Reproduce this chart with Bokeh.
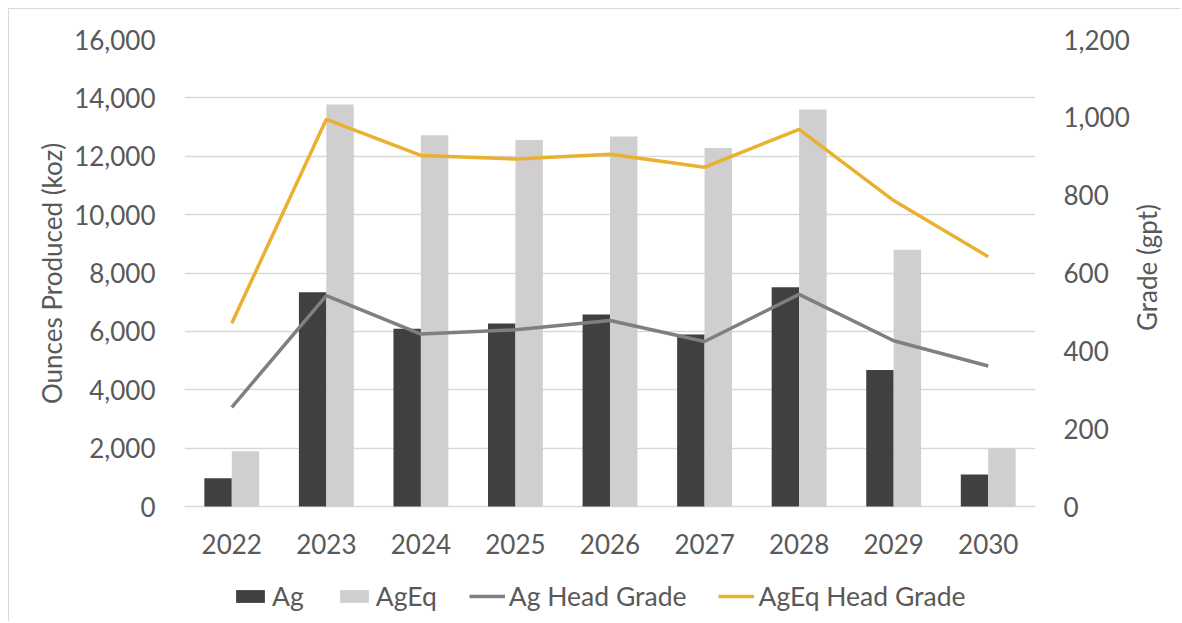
import math
from bokeh.plotting import figure
from bokeh.models import (ColumnDataSource, FactorRange, Range1d, LinearAxis, FixedTicker,
                          NumeralTickFormatter, Legend, LegendItem, Title)
from bokeh.transform import dodge
from bokeh.embed import file_html
from bokeh.resources import INLINE

years = ["2022", "2023", "2024", "2025", "2026", "2027", "2028", "2029", "2030"]
ag = [970, 7340, 6090, 6270, 6580, 5890, 7510, 4680, 1100]
ageq = [1890, 13770, 12720, 12560, 12680, 12280, 13600, 8800, 1990]
ag_grade = [255, 542, 443, 454, 478, 424, 545, 426, 361]
ageq_grade = [471, 995, 902, 893, 905, 872, 969, 786, 642]
oz_ticks = list(range(0, 16001, 2000))
grade_ticks = list(range(0, 1201, 200))

FONT = "Lato"
FS = "26px"
TXT = "#595959"

# layout geometry (screen px inside the figure)
W, H = 1172, 613
TOP = 30            # frame top (16,000 line)
PLOT_H = 467        # distance from 16,000 line down to the 0 line
BELOW = H - TOP - PLOT_H   # extra frame area below 0 (x labels + legend)
oz_max, gr_max = 16000, 1200
oz_min = -oz_max * BELOW / PLOT_H
gr_min = -gr_max * BELOW / PLOT_H
LEFT_TITLE_LEN = 262   # approx. rendered length of the left axis title

src = ColumnDataSource(dict(year=years, ag=ag, ageq=ageq, ag_grade=ag_grade, ageq_grade=ageq_grade))

p = figure(x_range=FactorRange(*years), y_range=Range1d(oz_min, oz_max),
           width=W, height=H, output_backend="svg", toolbar_location=None, y_axis_location=None,
           min_border_left=175, min_border_right=144, min_border_top=TOP, min_border_bottom=0)
p.styles = {"border-left": "1px solid #D9D9D9", "border-top": "1px solid #D9D9D9",
            "margin-top": "8px", "margin-left": "8px"}
p.outline_line_color = None
p.background_fill_color = "white"

p.extra_y_ranges = {"grade": Range1d(gr_min, gr_max)}
left_ticker = FixedTicker(ticks=oz_ticks)
left_axis = LinearAxis(ticker=left_ticker, formatter=NumeralTickFormatter(format="0,0"),
                       bounds=(0, oz_max))
right_axis = LinearAxis(y_range_name="grade", axis_label="Grade (gpt)",
                        ticker=FixedTicker(ticks=grade_ticks),
                        formatter=NumeralTickFormatter(format="0,0"), bounds=(0, gr_max))
p.add_layout(left_axis, "left")
p.add_layout(right_axis, "right")
right_axis.axis_label_orientation = math.pi / 2

# left axis title, centred on the 0..16,000 span (frame extends below 0)
left_title = Title(text="Ounces Produced (koz)", align="left",
                   offset=BELOW + PLOT_H / 2 - LEFT_TITLE_LEN / 2,
                   text_font=FONT, text_font_size=FS, text_color=TXT,
                   text_font_style="normal", standoff=8)
p.add_layout(left_title, "left")

xaxis = p.below[0]
xaxis.fixed_location = 0

for ax in [left_axis, right_axis, xaxis]:
    ax.axis_line_color = None
    ax.major_tick_line_color = None
    ax.minor_tick_line_color = None
    ax.major_tick_in = 0
    ax.major_tick_out = 0
    ax.minor_tick_in = 0
    ax.minor_tick_out = 0
    ax.major_label_text_font = FONT
    ax.major_label_text_font_size = FS
    ax.major_label_text_color = TXT
    ax.axis_label_text_font = FONT
    ax.axis_label_text_font_size = FS
    ax.axis_label_text_color = TXT
    ax.axis_label_text_font_style = "normal"

left_axis.major_label_standoff = 29
right_axis.major_label_standoff = 28
right_axis.axis_label_standoff = 14
xaxis.major_label_standoff = 27

p.xgrid.grid_line_color = None
p.ygrid.grid_line_color = "#D9D9D9"
p.ygrid.grid_line_width = 1.3
p.ygrid.ticker = left_ticker

r_ag = p.vbar(x=dodge("year", -0.145, range=p.x_range), top="ag", width=0.29, source=src,
              fill_color="#404042", line_color=None)
r_ageq = p.vbar(x=dodge("year", 0.145, range=p.x_range), top="ageq", width=0.29, source=src,
                fill_color="#D0CECE", line_color=None)
r_agg = p.line(x="year", y="ag_grade", source=src, y_range_name="grade",
               line_color="#7F7F7F", line_width=3.5)
r_ageqg = p.line(x="year", y="ageq_grade", source=src, y_range_name="grade",
                 line_color="#EAB030", line_width=3.5)

legend = Legend(items=[LegendItem(label="Ag", renderers=[r_ag]),
                       LegendItem(label="AgEq", renderers=[r_ageq]),
                       LegendItem(label="Ag Head Grade", renderers=[r_agg]),
                       LegendItem(label="AgEq Head Grade", renderers=[r_ageqg])],
                orientation="horizontal", location=(48, 10),
                glyph_width=36, glyph_height=16, label_standoff=4, spacing=32,
                padding=0, margin=0, background_fill_alpha=0, border_line_color=None,
                label_text_font=FONT, label_text_font_size="26.5px", label_text_color=TXT)
p.add_layout(legend)

open("out.html", "w").write(file_html(p, INLINE))
